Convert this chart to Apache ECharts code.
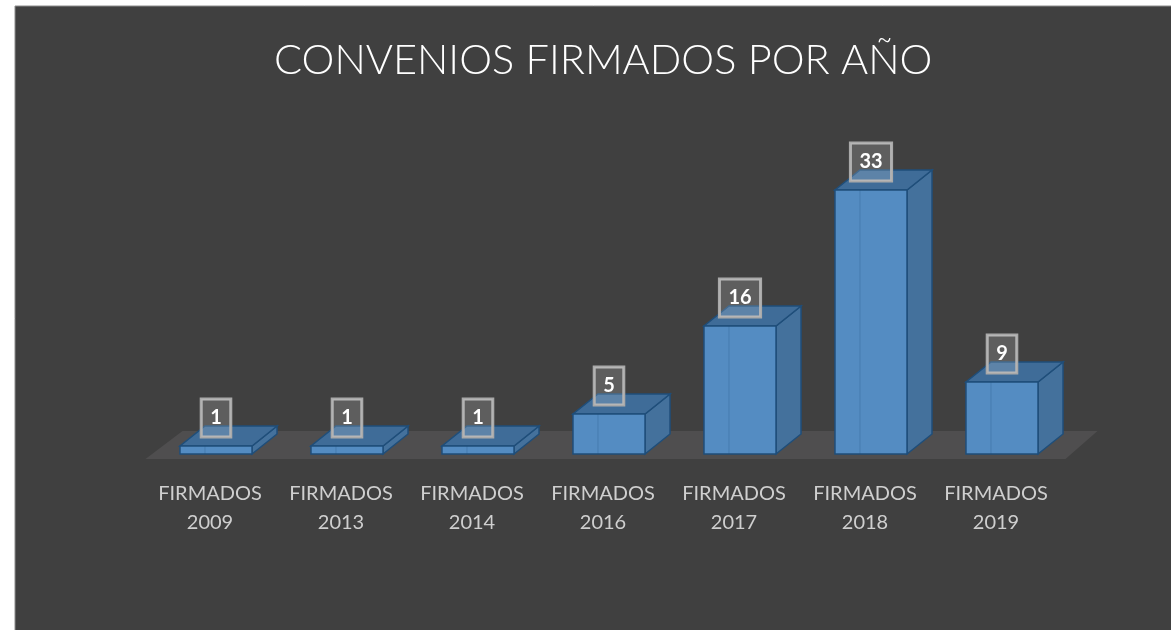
<!DOCTYPE html>
<html>
<head>
<meta charset="utf-8">
<script src="https://cdn.jsdelivr.net/npm/echarts@6/dist/echarts.min.js"></script>
<style>
  html, body { margin: 0; padding: 0; background: #fff; }
  #chart { width: 1171px; height: 630px; }
</style>
</head>
<body>
<div id="chart"></div>
<script>
const categories = ['FIRMADOS 2009', 'FIRMADOS 2013', 'FIRMADOS 2014', 'FIRMADOS 2016', 'FIRMADOS 2017', 'FIRMADOS 2018', 'FIRMADOS 2019'];
const firmados = [1, 1, 1, 5, 16, 33, 9];
const titleText = 'CONVENIOS FIRMADOS POR AÑO';

// 3d look of the bars
const DEPTH_X = 25;
const DEPTH_Y = -20;

const renderFloor = (params, api) => {
    const cs = params.coordSys;
    const y0 = api.coord([0, 0])[1] + 5;
    const xl = cs.x - 5, xr = cs.x + cs.width - 2;
    return {
        type: 'polygon',
        shape: { points: [[xl, y0], [xr, y0], [xr + 32, y0 - 28], [xl + 37, y0 - 28]] },
        style: { fill: '#4f4e4f' },
        silent: true
    };
};

const renderBar = (params, api) => {
    const idx = api.value(0);
    const val = api.value(1);
    const top = api.coord([idx, val]);
    const base = api.coord([idx, 0]);
    const band = api.size([1, 0])[0];
    const w = band * 0.55;
    const x0 = top[0] - w / 2, x1 = top[0] + w / 2;
    const yt = top[1], yb = base[1];
    const edge = '#1f4e7a';
    return {
        type: 'group',
        children: [
            {
                type: 'polygon',
                shape: { points: [[x1, yb], [x1 + DEPTH_X, yb + DEPTH_Y], [x1 + DEPTH_X, yt + DEPTH_Y], [x1, yt]] },
                style: { fill: '#44719c', stroke: edge, lineWidth: 1.5 }
            },
            {
                type: 'polygon',
                shape: { points: [[x0, yt], [x1, yt], [x1 + DEPTH_X, yt + DEPTH_Y], [x0 + DEPTH_X, yt + DEPTH_Y]] },
                style: { fill: '#3f6c98', stroke: edge, lineWidth: 1.5 }
            },
            {
                type: 'rect',
                shape: { x: x0, y: yt, width: w, height: yb - yt },
                style: { fill: '#548cc2', stroke: edge, lineWidth: 1.5 }
            },
            {
                type: 'line',
                shape: { x1: x0 + DEPTH_X, y1: yt, x2: x0 + DEPTH_X, y2: yb },
                style: { stroke: 'rgba(31,78,122,0.25)', lineWidth: 1 }
            },
            {
                type: 'text',
                x: top[0],
                y: yt - 28,
                style: {
                    text: String(val),
                    fill: '#fff',
                    font: 'bold 20px Lato',
                    align: 'center',
                    verticalAlign: 'middle',
                    backgroundColor: 'rgba(255,255,255,0.16)',
                    borderColor: '#a9a9a9',
                    borderWidth: 1.5,
                    padding: [9, 9, 9, 9]
                }
            }
        ]
    };
};

const getOption = () => {
    return {
        backgroundColor: '#fff',
        animation: false,
        graphic: [{
            type: 'rect',
            z: -10,
            shape: { x: 15, y: 6, width: 1160, height: 630 },
            style: { fill: '#404040', stroke: '#8c8c8c', lineWidth: 1 }
        }],
        title: {
            text: titleText,
            left: 269,
            top: 35,
            textStyle: { color: '#fff', fontFamily: 'Lato', fontWeight: 300, fontSize: 41.5 }
        },
        grid: { left: 150.5, right: 103.5, top: 134, bottom: 176 },
        xAxis: {
            type: 'category',
            data: categories,
            axisLine: { show: false },
            axisTick: { show: false },
            axisLabel: {
                interval: 0,
                color: '#cfcfcf',
                fontFamily: 'Lato',
                fontSize: 20,
                lineHeight: 29,
                margin: 25,
                padding: [0, 12, 0, 0],
                formatter: (v) => v.replace(' ', '\n')
            }
        },
        yAxis: { type: 'value', min: 0, max: 40, show: false, splitLine: { show: false } },
        series: [
            {
                type: 'custom',
                renderItem: renderFloor,
                data: [[0, 0]],
                z: 1,
                silent: true
            },
            {
                type: 'custom',
                renderItem: renderBar,
                data: firmados.map((v, i) => [i, v]),
                encode: { x: 0, y: 1 },
                z: 2
            }
        ]
    };
};

const initCharts = () => {
    const chart = echarts.init(document.getElementById('chart'));
    chart.setOption(getOption());
};

window.addEventListener('load', () => {
    initCharts();
});
</script>
</body>
</html>
